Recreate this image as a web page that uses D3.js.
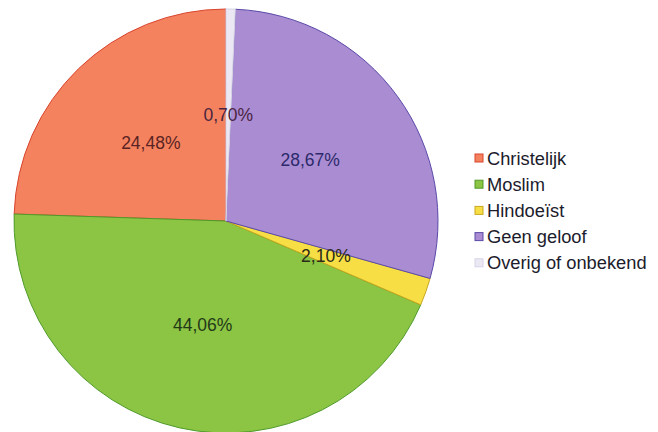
<!DOCTYPE html>
<html>
<head>
<meta charset="utf-8">
<script src="https://cdn.jsdelivr.net/npm/d3@7"></script>
<style>
  html, body { margin: 0; padding: 0; background: #ffffff; }
  svg { display: block; }
</style>
</head>
<body>
<svg id="chart" width="658" height="432"></svg>
<script>
const categories = ["Christelijk", "Moslim", "Hindoeïst", "Geen geloof", "Overig of onbekend"];
const values = [24.48, 44.06, 2.10, 28.67, 0.70];
const valueLabels = ["24,48%", "44,06%", "2,10%", "28,67%", "0,70%"];
const fillColors = ["#f5825e", "#8cc443", "#f7de45", "#aa8cd3", "#ebe8f4"];
const strokeColors = ["#d8452e", "#4f9a2a", "#c9a820", "#5a4aa8", "#d8d4e6"];
const labelColors = ["#5a2424", "#223a18", "#2a2a18", "#2c2a6a", "#4a2440"];

const svg = d3.select("#chart");
const cx = 226, cy = 221, r = 212;

const pie = d3.pie().sort(null).value(d => d.v).startAngle(0).endAngle(-2 * Math.PI);
const data = categories.map((c, i) => ({ c, v: values[i], i }));
const arcs = pie(data);
const arc = d3.arc().innerRadius(0).outerRadius(r);

const g = svg.append("g").attr("transform", `translate(${cx},${cy})`);
g.selectAll("path.slice")
  .data(arcs)
  .join("path")
  .attr("class", "slice")
  .attr("d", arc)
  .attr("fill", d => fillColors[d.data.i])
  .attr("stroke", d => strokeColors[d.data.i])
  .attr("stroke-width", 1)
  .attr("stroke-linejoin", "round");

const labelRadius = [0.51, 0.505, 0.5, 0.49, 0.5];
g.selectAll("text.lbl")
  .data(arcs)
  .join("text")
  .attr("class", "lbl")
  .attr("transform", d => {
    const a = (d.startAngle + d.endAngle) / 2;
    const rr = r * labelRadius[d.data.i];
    return `translate(${Math.sin(a) * rr},${-Math.cos(a) * rr})`;
  })
  .attr("text-anchor", "middle")
  .attr("dominant-baseline", "central")
  .attr("font-family", "Liberation Sans, Arial, sans-serif")
  .attr("font-size", 17.5)
  .attr("fill", d => labelColors[d.data.i])
  .text(d => valueLabels[d.data.i]);

const lg = svg.append("g").attr("transform", "translate(475,158)");
const rows = lg.selectAll("g.row").data(categories).join("g")
  .attr("class", "row")
  .attr("transform", (d, i) => `translate(0,${i * 26.2})`);
rows.append("rect")
  .attr("x", 0).attr("y", -4).attr("width", 8).attr("height", 8)
  .attr("fill", (d, i) => fillColors[i])
  .attr("stroke", (d, i) => strokeColors[i])
  .attr("stroke-width", 1);
rows.append("text")
  .attr("x", 12).attr("y", 0)
  .attr("dominant-baseline", "central")
  .attr("font-family", "Liberation Sans, Arial, sans-serif")
  .attr("font-size", 18.3)
  .attr("fill", "#1c1c2c")
  .text(d => d);
</script>
</body>
</html>
